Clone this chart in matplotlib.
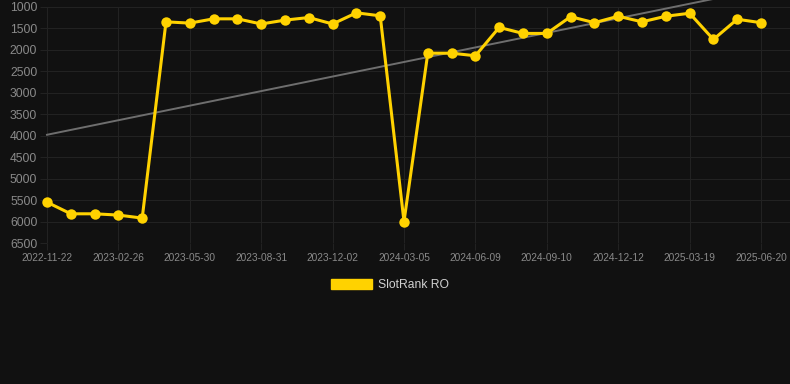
import numpy as np
import matplotlib
matplotlib.use("Agg")
import matplotlib.pyplot as plt

# data (pořadí bodů 0..30, popisek u každého třetího)
popisky_x = ["2022-11-22", "2023-02-26", "2023-05-30", "2023-08-31", "2023-12-02",
             "2024-03-05", "2024-06-09", "2024-09-10", "2024-12-12", "2025-03-19",
             "2025-06-20"]
rank_ro = [5550, 5820, 5820, 5850, 5920, 1350, 1380, 1280, 1280, 1400,
           1310, 1250, 1400, 1140, 1210, 6000, 2080, 2080, 2140, 1480,
           1620, 1620, 1230, 1370, 1220, 1350, 1220, 1150, 1760, 1290,
           1370]
trend_konce = [3980, 590]
y_ticky = [1000, 1500, 2000, 2500, 3000, 3500, 4000, 4500, 5000, 5500, 6000, 6500]

# barvy
POZADI = "#111111"
MRIZKA = "#222222"
ZLUTA = "#FFD200"
SEDA_TEXT = "#8a8a8a"

plt.rcParams["font.family"] = ["Liberation Sans", "DejaVu Sans"]

fig = plt.figure(figsize=(7.9, 3.84), dpi=100, facecolor=POZADI)
ax = fig.add_axes([47 / 790, 1 - 243 / 384, 1 - 47 / 790, (243 - 6.8) / 384])
ax.set_facecolor(POZADI)

x = np.arange(len(rank_ro))

# trendová čára (přesahuje horní okraj, proto bez ořezu)
ax.plot([x[0], x[-1]], trend_konce, color="#6e6e6e", linewidth=1.4, clip_on=False, zorder=2)

# hlavní řada
ax.plot(x, rank_ro, color=ZLUTA, linewidth=2.2, marker="o", markersize=7.5,
        markeredgewidth=0, zorder=3, clip_on=False)

# osy
ax.set_xlim(0, (790 - 47) / 23.8)
ax.set_ylim(6500, 1000)
ax.set_xticks(x[::3])
ax.set_xticklabels(popisky_x)
ax.set_yticks(y_ticky)
ax.set_yticklabels([str(v) for v in y_ticky])

ax.grid(True, color=MRIZKA, linewidth=0.8)
ax.set_axisbelow(True)
for s in ax.spines.values():
    s.set_visible(False)

ax.tick_params(axis="x", length=5, width=0.8, color=MRIZKA, pad=2.5, labelsize=7.3, labelcolor=SEDA_TEXT)
ax.tick_params(axis="y", length=5, width=0.8, color=MRIZKA, pad=2, labelsize=8.7, labelcolor=SEDA_TEXT)

# legenda
leg = ax.legend([plt.Rectangle((0, 0), 1, 1, color=ZLUTA)], ["SlotRank RO"],
                loc="center", bbox_to_anchor=(390 / 790, 1 - 285 / 384),
                bbox_transform=fig.transFigure, frameon=False, fontsize=8.7,
                handlelength=3.4, handleheight=0.9, handletextpad=0.5)
for t in leg.get_texts():
    t.set_color("#d0d0d0")

fig.savefig("out.png", dpi=100, facecolor=POZADI)
